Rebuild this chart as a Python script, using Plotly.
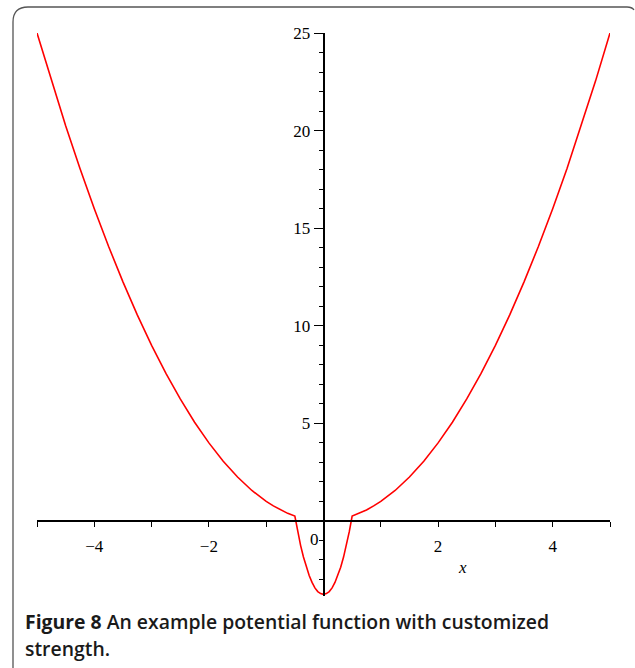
import plotly.graph_objects as go

# Values
x_vals = [-5.0, -4.75, -4.5, -4.25, -4.0, -3.75, -3.5, -3.25, -3.0, -2.75, -2.5, -2.25,
          -2.0, -1.75, -1.5, -1.25, -1.0, -0.875, -0.75, -0.625, -0.5,
          -0.45, -0.4, -0.35, -0.3, -0.25, -0.2, -0.15, -0.1, -0.05, 0.0,
          0.05, 0.1, 0.15, 0.2, 0.25, 0.3, 0.35, 0.4, 0.45,
          0.5, 0.625, 0.75, 0.875, 1.0, 1.25, 1.5, 1.75, 2.0, 2.25, 2.5, 2.75,
          3.0, 3.25, 3.5, 3.75, 4.0, 4.25, 4.5, 4.75, 5.0]
y_vals = [25.0, 22.56, 20.25, 18.06, 16.0, 14.06, 12.25, 10.56, 9.0, 7.56, 6.25, 5.06,
          4.0, 3.06, 2.25, 1.56, 1.0, 0.77, 0.56, 0.39, 0.25,
          -0.55, -1.25, -1.85, -2.37, -2.8, -3.15, -3.43, -3.62, -3.72, -3.76,
          -3.72, -3.62, -3.43, -3.15, -2.8, -2.37, -1.85, -1.25, -0.55,
          0.25, 0.39, 0.56, 0.77, 1.0, 1.56, 2.25, 3.06, 4.0, 5.06, 6.25, 7.56,
          9.0, 10.56, 12.25, 14.06, 16.0, 18.06, 20.25, 22.56, 25.0]

x_tick_vals = [-4, -2, 2, 4]
x_tick_text = ["\u22124", "\u22122", "2", "4"]
y_tick_vals = [5, 10, 15, 20, 25]
y_minor_vals = [v for v in range(-3, 25) if v % 5 != 0]

x_range = [-5, 5]
y_range = [-3.845, 25]

W, H = 635, 668
ML, MR, MT, MB = 37, 25, 33, 72

fig = go.Figure()
fig.add_trace(go.Scatter(x=x_vals, y=y_vals, mode="lines",
                         line=dict(color="#ff0000", width=1.6),
                         hoverinfo="skip", showlegend=False))

serif = dict(family="Liberation Serif", size=17, color="black")

fig.update_layout(
    width=W, height=H,
    margin=dict(l=ML, r=MR, t=MT, b=MB),
    paper_bgcolor="white", plot_bgcolor="white",
    xaxis=dict(range=x_range, showgrid=False, zeroline=False,
               showline=True, linecolor="black", linewidth=1.5,
               anchor="free", position=(0 - y_range[0]) / (y_range[1] - y_range[0]),
               tickmode="array", tickvals=x_tick_vals, ticktext=x_tick_text,
               ticks="outside", ticklen=5, tickwidth=1.2, tickcolor="black",
               ticklabelstandoff=5,
               minor=dict(dtick=1, tick0=0, ticks="outside", ticklen=5,
                          tickwidth=1.2, tickcolor="black"),
               tickfont=serif),
    yaxis=dict(range=y_range, showgrid=False, zeroline=False,
               showline=True, linecolor="black", linewidth=1.5,
               anchor="free", position=(0 - x_range[0]) / (x_range[1] - x_range[0]),
               tickmode="array", tickvals=y_tick_vals,
               ticks="outside", ticklen=9, tickwidth=1.2, tickcolor="black",
               minor=dict(tickmode="array", tickvals=y_minor_vals, ticks="outside",
                          ticklen=4, tickwidth=1.2, tickcolor="black"),
               tickfont=serif),
)

# "0" label and axis title as in the reference
fig.add_annotation(x=-0.15, y=-0.97, text="0", showarrow=False,
                   font=serif, xanchor="center", yanchor="middle")
fig.add_annotation(x=2.43, y=-2.36, text="<i>x</i>", showarrow=False,
                   font=serif, xanchor="center", yanchor="middle")

# Frame (open on the right and bottom)
pw = W - ML - MR
ph = H - MT - MB
def px(xp):
    return (xp - ML) / pw
def py(yp):
    return (H - MB - yp) / ph

path = (f"M {px(13)},{py(668)} L {px(13)},{py(22)} "
        f"Q {px(13)},{py(7)} {px(28)},{py(7)} "
        f"L {px(627)},{py(7)} Q {px(632)},{py(7)} {px(634)},{py(10)}")
fig.add_shape(type="path", path=path, xref="paper", yref="paper",
              line=dict(color="#555555", width=1.3), layer="above")

# Caption
cap_font = dict(family="Open Sans", size=19.4, color="#1a1a1a", weight=600)
fig.add_annotation(xref="paper", yref="paper", x=px(23), y=py(621),
                   text="<b>Figure 8</b> An example potential function with customized",
                   showarrow=False, xanchor="left", yanchor="middle", font=cap_font)
fig.add_annotation(xref="paper", yref="paper", x=px(23), y=py(648),
                   text="strength.",
                   showarrow=False, xanchor="left", yanchor="middle", font=cap_font)

fig.write_html("out.html")
